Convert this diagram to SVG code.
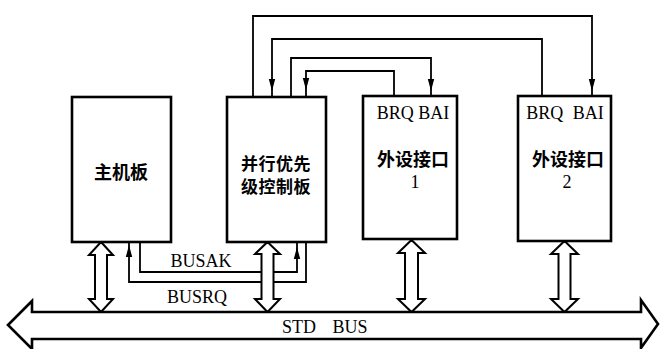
<svg xmlns="http://www.w3.org/2000/svg" width="661" height="349" viewBox="0 0 661 349">
<style>
.box{fill:#fff;stroke:#000;stroke-width:2.6}
.ln{fill:none;stroke:#000;stroke-width:1.8}
.dbl{fill:#fff;stroke:#000;stroke-width:2;stroke-linejoin:miter}
.bus{fill:#fff;stroke:#000;stroke-width:2.6;stroke-linejoin:miter}
.lat{font-family:"Liberation Serif","Times New Roman",serif;font-size:18px;fill:#000}
.cjk{font-family:"Noto Sans CJK SC","Noto Sans CJK JP",sans-serif;font-size:18px;font-weight:700;fill:#000}
.cjk2{font-family:"Noto Sans CJK SC","Noto Sans CJK JP",sans-serif;font-size:17px;font-weight:700;fill:#000;letter-spacing:0.5px}
</style>
<defs>
<path id="ahd" d="M0 0 L-3.2 -12 L3.2 -12 Z" fill="#000"/>
<path id="ahu" d="M0 0 L-3.2 12 L3.2 12 Z" fill="#000"/>
</defs>
<rect width="661" height="349" fill="#fff"/>

<g id="connectors">
<path class="ln" d="M253 97 V16 H592 V96"/>
<use href="#ahd" x="592" y="91"/>
<path class="ln" d="M542 96 V39 H272 V97"/>
<use href="#ahd" x="272" y="91"/>
<path class="ln" d="M291 97 V58 H431 V96"/>
<use href="#ahd" x="431" y="91"/>
<path class="ln" d="M394 96 V71 H306 V97"/>
<use href="#ahd" x="306" y="90"/>
<path class="ln" d="M140 242 V272 H297 V242"/>
<use href="#ahu" x="297" y="247"/>
<path class="ln" d="M306 242 V282 H129 V242"/>
<use href="#ahu" x="129" y="245"/>
<path class="dbl" d="M101 242 L113 255 L107 255 L107 299 L113 299 L101 312 L89 299 L95 299 L95 255 L89 255 Z"/>
<path class="dbl" d="M267.5 242 L280 254 L273.5 254 L273.5 299 L280 299 L267.5 312 L255 299 L261.5 299 L261.5 254 L255 254 Z"/>
<path class="dbl" d="M411.5 240 L425 253 L418 253 L418 299 L425 299 L411.5 312 L398 299 L405 299 L405 253 L398 253 Z"/>
<path class="dbl" d="M564.5 241 L578 254 L570.5 254 L570.5 299 L578 299 L564.5 312 L551 299 L558.5 299 L558.5 254 L551 254 Z"/>
<g id="std-bus">
<path class="bus" d="M8 325 L32 301 L32 312 L641 312 L641 300 L658 324 L641 348 L641 339 L32 339 L32 349 Z"/>
<text class="lat" x="282" y="333" style="word-spacing:12px">STD BUS</text>
</g>
<text class="lat" x="201" y="267" text-anchor="middle">BUSAK</text>
<text class="lat" x="197" y="303" text-anchor="middle">BUSRQ</text>
</g>

<g id="host">
<rect class="box" x="72" y="97" width="99" height="145"/>
<text class="cjk" x="121" y="179" text-anchor="middle">主机板</text>
</g>
<g id="priority-ctrl">
<rect class="box" x="227" y="97" width="99" height="145"/>
<text class="cjk2" text-anchor="middle"><tspan x="276" y="170">并行优先</tspan><tspan x="276" y="193">级控制板</tspan></text>
</g>
<g id="periph1">
<rect class="box" x="363" y="96" width="94" height="143"/>
<text class="lat" x="413" y="119" text-anchor="middle">BRQ BAI</text>
<text class="cjk" x="413" y="166" text-anchor="middle">外设接口</text>
<text class="lat" x="415" y="188" text-anchor="middle">1</text>
</g>
<g id="periph2">
<rect class="box" x="518" y="96" width="93" height="145"/>
<text class="lat" x="565" y="119" text-anchor="middle" style="word-spacing:5px">BRQ BAI</text>
<text class="cjk" x="568" y="166" text-anchor="middle">外设接口</text>
<text class="lat" x="567" y="188" text-anchor="middle">2</text>
</g>
</svg>
